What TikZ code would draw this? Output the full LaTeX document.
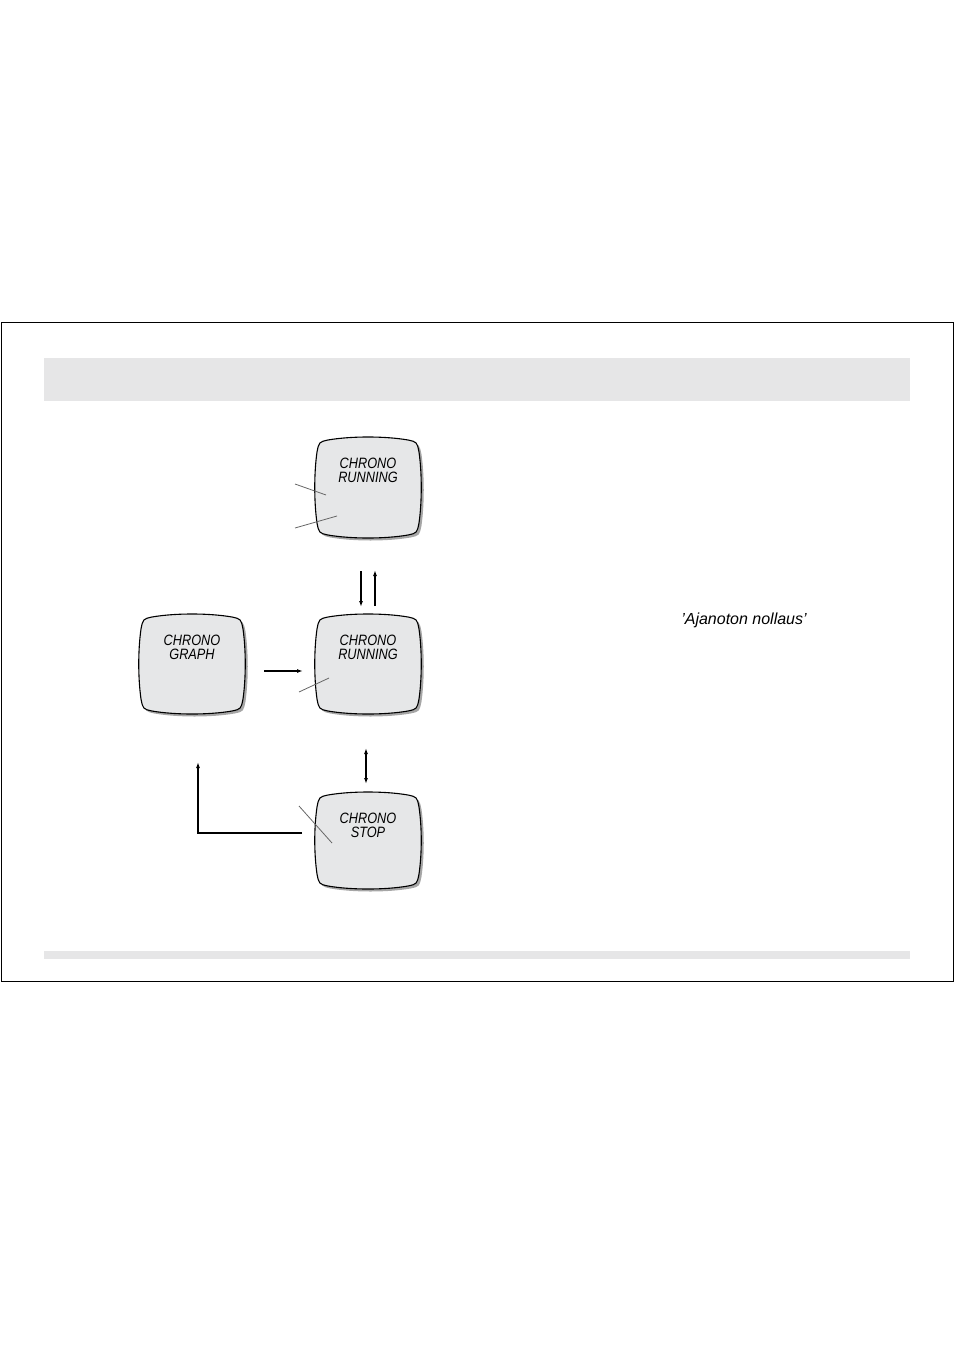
\documentclass[tikz,border=0pt]{standalone}
\usepackage{fontspec}
\setmainfont{Liberation Sans}
\definecolor{scr}{HTML}{E6E7E8}
\definecolor{bar}{HTML}{E6E6E7}
\newcommand\scrpath[4]{({#1+12},{#2+2}) .. controls ({#1+35},{#2-2}) and ({#3-35},{#2-2}) .. ({#3-12},{#2+2})
 .. controls ({#3-3},{#2+4}) .. ({#3-1},{#2+14})
 .. controls ({#3+2},{#2+35}) and ({#3+2},{#4-35}) .. ({#3-1},{#4-14})
 .. controls ({#3-3},{#4-4}) .. ({#3-12},{#4-2})
 .. controls ({#3-35},{#4+2}) and ({#1+35},{#4+2}) .. ({#1+12},{#4-2})
 .. controls ({#1+3},{#4-4}) .. ({#1+1},{#4-14})
 .. controls ({#1-2},{#4-35}) and ({#1-2},{#2+35}) .. ({#1+1},{#2+14})
 .. controls ({#1+3},{#2+4}) .. cycle}
\newcommand\screen[6]{%
 \fill[gray!70,shift={(2.5,2.5)}] \scrpath{#1}{#2}{#3}{#4};
 \draw[fill=scr,line width=1.1pt] \scrpath{#1}{#2}{#3}{#4};
 \node[scrtext] (#5) at ({(#1+#3)/2},{#2+32}) {#6};}
\tikzset{scrtext/.style={font=\itshape\fontsize{15}{17}\selectfont,align=center,xscale=0.85},
 lead/.style={draw=gray!80!black,line width=0.8pt},
 arr/.style={-{Latex[length=6pt,width=4pt]},line width=1.3pt}}
\usetikzlibrary{arrows.meta}
\begin{document}
\begin{tikzpicture}[x=1pt,y=-1pt]
\useasboundingbox (0,0) rectangle (954,1351);
\draw[line width=0.8pt] (1,322) rectangle (953,981);
\fill[bar] (44,358) rectangle (910,401);
\fill[bar] (44,951) rectangle (910,959);
\screen{316}{438}{420}{537}{s1}{CHRONO\\[-3pt]RUNNING}
\screen{316}{615}{420}{713}{s2}{CHRONO\\[-3pt]RUNNING}
\screen{316}{793}{420}{888}{s3}{CHRONO\\[-3pt]STOP}
\screen{140}{615}{244}{713}{s4}{CHRONO\\[-3pt]GRAPH}
\draw[lead] (295,484) -- (326,495);
\draw[lead] (295,528) -- (337,516);
\draw[lead] (299,692) -- (329,678);
\draw[lead] (299,806) -- (332,843);
\coordinate (a1) at (361,571); \coordinate (a2) at (361,607);
\coordinate (b1) at (375,606); \coordinate (b2) at (375,570);
\coordinate (c1) at (264,671); \coordinate (c2) at (303,671);
\coordinate (d1) at (366,748); \coordinate (d2) at (366,784);
\coordinate (e1) at (302,833); \coordinate (e2) at (198,762);
\draw[arr] (a1) -- (a2);
\draw[arr,line width=2pt] (b1) -- (b2);
\draw[arr] (c1) -- (c2);
\draw[arr,{Latex[length=6pt,width=4pt]}-{Latex[length=6pt,width=4pt]}] (d1) -- (d2);
\draw[arr,line width=1.8pt] (e1) -| (e2);
\node[font=\itshape\fontsize{16}{18}\selectfont] (t) at (744,620) {'Ajanoton nollaus'};
\end{tikzpicture}
\end{document}
